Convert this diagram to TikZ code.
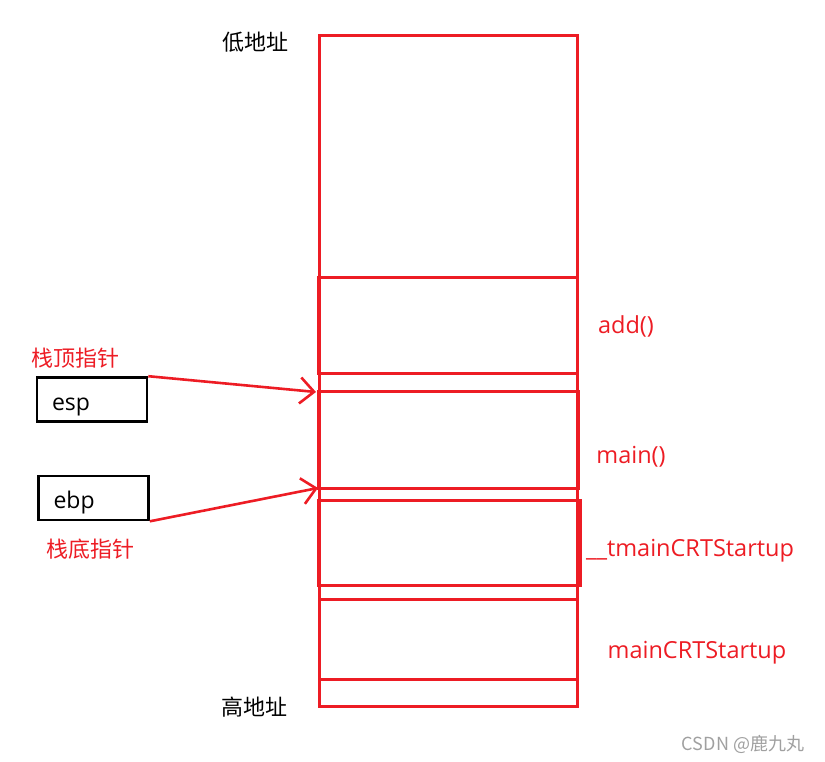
\documentclass[tikz,border=0pt]{standalone}
\usepackage{fontspec}
\setmainfont{Open Sans}
\newfontfamily\cjk{Noto Sans CJK SC}
\usetikzlibrary{arrows.meta,positioning}
\definecolor{paintred}{RGB}{237,28,36}
\definecolor{markgray}{RGB}{160,160,160}

\begin{document}
\begin{tikzpicture}[
			x=1pt, y=-1pt,
			frame/.style={draw=paintred, line width=3pt, inner sep=0pt},
			regbox/.style={draw=black, line width=2.6pt, minimum width=110pt, minimum height=44pt, inner xsep=15pt, text width=80pt, text height=25pt, text depth=4pt, align=left, font=\fontsize{23}{26}\selectfont},
			ptr/.style={draw=paintred, line width=2.6pt, -{Straight Barb[length=14pt,width=26pt]}},
			tag/.style={text=paintred, inner sep=0pt, font=\fontsize{23.5}{27}\selectfont},
			addr/.style={inner sep=0pt, font=\cjk\fontsize{22}{26}\selectfont}
			]
			\useasboundingbox (0,0) rectangle (825,761);
			
			% Stack column
			\node[frame, minimum width=258pt, minimum height=671pt] (stack) at (448,370.5) {};
			\node[frame, minimum width=259pt, minimum height=96pt] (addf) at (447.5,325) {};
			\node[frame, minimum width=260pt, minimum height=97pt] (mainf) at (448,439.5) {};
			\node[frame, minimum width=262pt, minimum height=85pt] (tmainf) at (449,542.5) {};
			\draw[paintred, line width=3pt] (319,599) -- (577,599);
			\draw[paintred, line width=3pt] (319,679) -- (577,679);
			
			% Address labels
			\node[addr] (low) at (255,42) {低地址};
			\node[addr] (high) at (254,707) {高地址};
			
			% Frame labels
			\node[tag] (addl) at (626,326) {add()};
			\node[tag] (mainl) at (631,457) {main()};
			\node[tag] (tmainl) at (690,551) {\_\_tmainCRTStartup};
			\node[tag] (crtl) at (697,653) {mainCRTStartup};
			
			% Registers
			\node[regbox] (esp) at (92,399.5) {esp};
			\node[regbox] (ebp) at (93.5,498) {ebp};
			\node[addr, text=paintred] (espl) at (75,358) {栈顶指针};
			\node[addr, text=paintred] (ebpl) at (90,549) {栈底指针};
			
			% Pointers into the stack
			\coordinate (esptip) at (316,392);
			\coordinate (ebptip) at (318,488);
			\draw[ptr] (esp.north east) -- (esptip);
			\draw[ptr] (ebp.south east) -- (ebptip);
			
			% Watermark
			\node[inner sep=0pt, text=markgray, font=\cjk\fontsize{18}{21}\selectfont] (mark) at (743,744) {CSDN @鹿九丸};
			
		\end{tikzpicture}
\end{document}
